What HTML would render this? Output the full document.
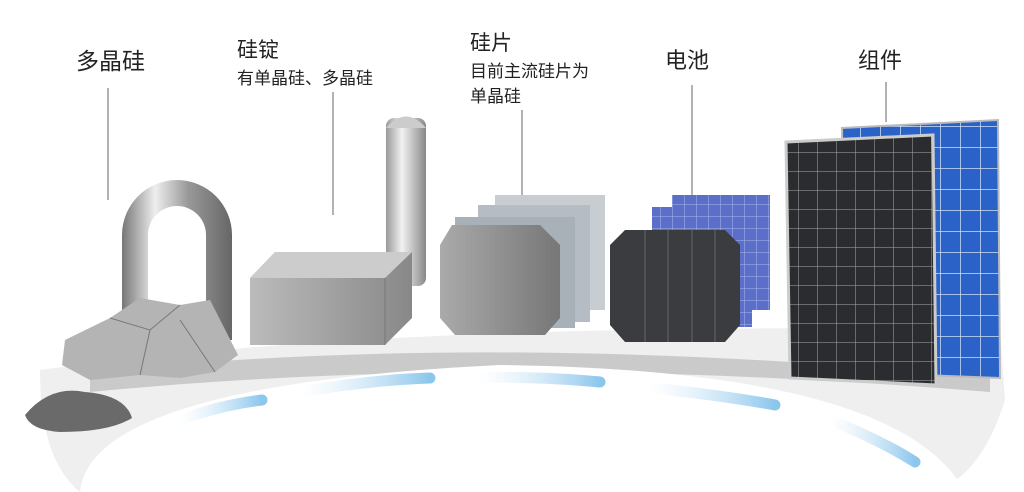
<!DOCTYPE html>
<html><head><meta charset="utf-8"><style>
html,body{margin:0;padding:0;background:#fff;}
body{width:1024px;height:492px;overflow:hidden;position:relative;font-family:"Liberation Sans","Noto Sans CJK SC",sans-serif;}
.t{position:absolute;color:#222;white-space:nowrap;}
</style></head><body>
<svg width="1024" height="492" style="position:absolute;left:0;top:0">
<defs>
<linearGradient id="tube" x1="0" x2="1"><stop offset="0" stop-color="#777"/><stop offset=".3" stop-color="#eee"/><stop offset=".6" stop-color="#999"/><stop offset="1" stop-color="#666"/></linearGradient>
<linearGradient id="cyl" x1="0" x2="1"><stop offset="0" stop-color="#999"/><stop offset=".4" stop-color="#f2f2f2"/><stop offset="1" stop-color="#888"/></linearGradient>
<linearGradient id="blk" x1="0" x2="1"><stop offset="0" stop-color="#bbb"/><stop offset="1" stop-color="#888"/></linearGradient>
<linearGradient id="wf" x1="0" x2="1"><stop offset="0" stop-color="#aaa"/><stop offset="1" stop-color="#777"/></linearGradient>
<linearGradient id="bl" x1="0" x2="1"><stop offset="0" stop-color="#bfe0f5" stop-opacity="0"/><stop offset="1" stop-color="#6fb8e8"/></linearGradient>
<pattern id="grid1" width="19" height="19" patternUnits="userSpaceOnUse"><rect width="19" height="19" fill="#2a2c30"/><path d="M0 0H19M0 0V19" stroke="#aaa" stroke-width="1"/></pattern>
<pattern id="grid2" width="20" height="21" patternUnits="userSpaceOnUse"><rect width="20" height="21" fill="#2a62c8"/><path d="M0 0H20M0 0V21" stroke="#cfe0f5" stroke-width="1.5"/></pattern>
<pattern id="grid3" width="12" height="12" patternUnits="userSpaceOnUse"><rect width="12" height="12" fill="#5b6fc8"/><path d="M0 0H12M0 0V12" stroke="#a8b6ee" stroke-width="1"/></pattern>
</defs>
<path d="M40 370 Q400 320 1000 330 L1005 400 Q980 480 930 492 L80 492 Q40 460 40 370Z" fill="#efefef"/>
<path d="M90 372 Q500 330 990 378 L990 392 Q500 352 90 392Z" fill="#cacaca"/>
<path d="M80 492 Q90 385 500 365 Q900 370 965 492Z" fill="#fff"/>
<g stroke-linecap="round" stroke-width="11" fill="none" opacity=".8">
<path d="M180 420 Q220 405 262 400" stroke="url(#bl)"/>
<path d="M300 392 Q370 380 430 378" stroke="url(#bl)"/>
<path d="M480 377 Q550 377 600 382" stroke="url(#bl)"/>
<path d="M650 388 Q720 395 775 405" stroke="url(#bl)"/>
<path d="M830 420 Q880 440 915 462" stroke="url(#bl)"/>
</g>
<g stroke="#999" stroke-width="1.5">
<line x1="108" y1="88" x2="108" y2="200"/><line x1="333" y1="92" x2="333" y2="215"/>
<line x1="522" y1="110" x2="522" y2="200"/><line x1="692" y1="85" x2="692" y2="200"/>
<line x1="886" y1="82" x2="886" y2="122"/>
</g>
<path d="M122 340 V235 A55 55 0 0 1 232 235 V340 H206 V235 A29 29 0 0 0 148 235 V340Z" fill="url(#tube)"/>
<path d="M65 340 L110 318 L140 298 L180 305 L210 300 L238 355 L215 372 L180 378 L140 375 L90 380 L62 365Z" fill="#b4b4b4"/>
<path d="M110 318 L150 330 L180 305 M150 330 L140 375 M180 320 L215 372" stroke="#777" fill="none"/>
<path d="M25 415 Q50 385 85 392 Q125 395 132 418 Q110 432 60 432 Q30 430 25 415Z" fill="#6a6a6a"/>
<rect x="386" y="118" width="40" height="168" rx="8" fill="url(#cyl)"/>
<path d="M386 128 Q406 105 426 128Z" fill="#ccc"/>
<path d="M250 278 L275 252 L412 252 L412 318 L385 345 L250 345Z" fill="url(#blk)"/>
<path d="M250 278 L275 252 L412 252 L385 278Z" fill="#ccc"/>
<path d="M385 278 V345" stroke="#777"/>
<path d="M495 195 H605 V310 H495Z" fill="#c8cdd2"/>
<path d="M478 205 H590 V322 H478Z" fill="#b5bcc4"/>
<path d="M455 217 H575 V328 H455Z" fill="#a8b0b8"/>
<path d="M452 225 H540 L560 245 V318 L545 335 H455 L440 318 V245Z" fill="url(#wf)"/>
<rect x="672" y="195" width="98" height="115" fill="url(#grid3)"/>
<rect x="652" y="207" width="100" height="120" fill="url(#grid3)"/>
<path d="M625 230 H725 L740 245 V325 L725 342 H625 L610 325 V245Z" fill="#3a3c40"/>
<g stroke="#666" stroke-width="1"><line x1="645" y1="230" x2="645" y2="342"/><line x1="668" y1="230" x2="668" y2="342"/><line x1="692" y1="230" x2="692" y2="342"/><line x1="715" y1="230" x2="715" y2="342"/></g>
<path d="M842 128 L998 120 L1000 378 L845 372Z" fill="url(#grid2)" stroke="#bbb" stroke-width="2"/>
<path d="M786 142 L933 135 L936 385 L790 378Z" fill="url(#grid1)" stroke="#ccc" stroke-width="3"/>
</svg>
<div class="t" style="left:76px;top:42px;font-size:23px">多晶硅</div>
<div class="t" style="left:237px;top:34px;font-size:21px">硅锭</div>
<div class="t" style="left:237px;top:64px;font-size:17px">有单晶硅、多晶硅</div>
<div class="t" style="left:470px;top:27px;font-size:21px">硅片</div>
<div class="t" style="left:470px;top:57px;font-size:17px">目前主流硅片为</div>
<div class="t" style="left:470px;top:82px;font-size:17px">单晶硅</div>
<div class="t" style="left:665px;top:43px;font-size:22px">电池</div>
<div class="t" style="left:858px;top:43px;font-size:22px">组件</div>
</body></html>
